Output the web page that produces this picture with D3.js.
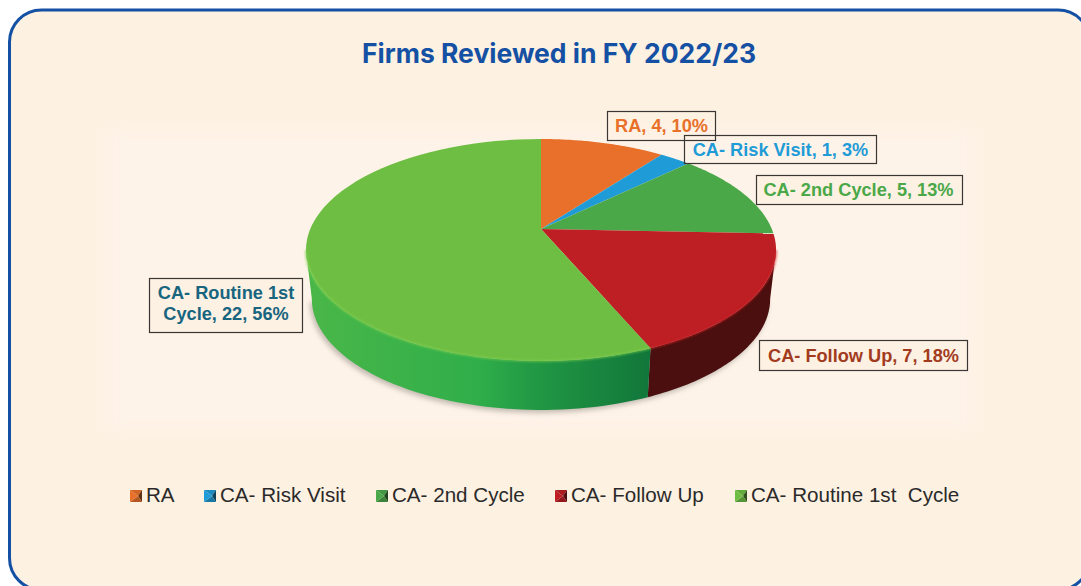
<!DOCTYPE html>
<html><head><meta charset="utf-8">
<script src="https://cdn.jsdelivr.net/npm/d3@7/dist/d3.min.js"></script>
<style>html,body{margin:0;padding:0;background:#fff;overflow:hidden}</style></head>
<body><svg id="c" width="1081" height="586"></svg>
<script>
const categories=["RA","CA- Risk Visit","CA- 2nd Cycle","CA- Follow Up","CA- Routine 1st  Cycle"];
const values=[4,1,5,7,22];
const percents=[10,3,13,18,56];
const topColors=["#e8702a","#1f9bd7","#4aa848","#bd1f24","#6fbe44"];
const sideColors=["#8a3f12","#0f5c85","#1f6b2c","#4a0f0e","#1d8a3a"];
const labelColors=["#e8702a","#1f9bd7","#4aa848","#a23b1e","#17657f"];
const labelLines=[["RA, 4, 10%"],["CA- Risk Visit, 1, 3%"],["CA- 2nd Cycle, 5, 13%"],["CA- Follow Up, 7, 18%"],["CA- Routine 1st","Cycle, 22, 56%"]];
const labelBoxes=[[607,111,108,29],[684,135,192,28],[756,175,206,29],[759,340,208,30],[149,278,153,54]];
const legendX=[130,204,376,555,735];
const title="Firms Reviewed in FY 2022/23";

const svg=d3.select("#c");
const defs=svg.append("defs");
const font="'Liberation Sans',Arial,sans-serif";
svg.append("rect").attr("x",9.5).attr("y",10).attr("width",1080.5).attr("height",580).attr("rx",32)
 .attr("fill","#fdf1e2").attr("stroke","#1450a3").attr("stroke-width",3);
const bf=defs.append("filter").attr("id","bg").attr("x","-5%").attr("y","-10%").attr("width","110%").attr("height","120%");
bf.append("feGaussianBlur").attr("stdDeviation",8);
svg.append("rect").attr("x",105).attr("y",130).attr("width",870).attr("height",300).attr("fill","#fef3e8").attr("filter","url(#bg)");
svg.append("text").attr("x",559).attr("y",63).attr("text-anchor","middle")
 .attr("font-family","Inter,'Open Sans',sans-serif").attr("font-weight",700).attr("font-size",26.5).attr("fill","#1450a3").text(title);

// perspective projection of a unit circle onto the tilted pie
const cx=541,cy=229,a=230.8,b=107,k=-0.189,depth=49,inset=.975;
const proj=(t)=>{const x=Math.sin(t),y=-Math.cos(t),d=1+k*y;return [cx+a*x/d,cy+b*y/d];};
const lower=(t)=>{const p=proj(t);return [cx+(p[0]-cx)*inset,p[1]+depth];};
const arcs=d3.pie().sort(null).value(d=>d)(values);
const line=d3.line();
const samples=(s,e)=>d3.range(0,61).map(i=>s+(e-s)*i/60);
const visStart=Math.acos(k),visEnd=2*Math.PI-Math.acos(k);

const f=defs.append("filter").attr("id","sh").attr("x","-10%").attr("y","-10%").attr("width","120%").attr("height","130%");
f.append("feGaussianBlur").attr("stdDeviation",2.5);
const rimBlur=defs.append("filter").attr("id","rim");
rimBlur.append("feGaussianBlur").attr("stdDeviation",1);
const g=svg.append("g");
const sa=samples(visStart,visEnd).map(t=>{const p=lower(t);return [p[0]-2,p[1]+3];});
g.append("path").attr("d",line(sa)+"Z").attr("fill","#b5aea6").attr("opacity",.8).attr("filter","url(#sh)");
const lg=defs.append("linearGradient").attr("id","gs").attr("x1",0).attr("x2",1).attr("y1",0).attr("y2",0);
[[0,"#4ab748"],[.5,"#30ae4a"],[.65,"#229a44"],[1,"#11763a"]].forEach(s=>lg.append("stop").attr("offset",s[0]).attr("stop-color",s[1]));
arcs.forEach(d=>{
  const s=Math.max(d.startAngle,visStart),e=Math.min(d.endAngle,visEnd);
  if(e<=s) return;
  const ts=samples(s,e);
  g.append("path").attr("d",line(ts.map(proj).concat(ts.map(lower).reverse()))+"Z")
   .attr("fill",d.index===4?"url(#gs)":sideColors[d.index]);
});
arcs.forEach(d=>{
  const pts=[[cx,cy]].concat(samples(d.startAngle,d.endAngle).map(proj));
  g.append("path").attr("d",line(pts)+"Z").attr("fill",topColors[d.index]);
});
// soft bevel along the front rim of the top face
arcs.forEach(d=>{
  const s=Math.max(d.startAngle,visStart),e=Math.min(d.endAngle,visEnd);
  if(e<=s) return;
  g.append("path").attr("d",line(samples(s,e).map(proj))).attr("fill","none")
   .attr("stroke",d3.color(topColors[d.index]).brighter(.25)).attr("stroke-width",2).attr("opacity",.7).attr("filter","url(#rim)");
});
labelBoxes.forEach((r,i)=>{
  svg.append("rect").attr("x",r[0]+.5).attr("y",r[1]+.5).attr("width",r[2]).attr("height",r[3])
    .attr("fill",i<2?"none":"#fdf1e3").attr("stroke","#3a3634").attr("stroke-width",1.2);
  const lines=labelLines[i];
  lines.forEach((t,j)=>{
    svg.append("text").attr("x",r[0]+r[2]/2+(i===2?-.5:.5)).attr("y",r[1]+(lines.length>1?21+j*21:r[3]/2+6.5)).attr("text-anchor","middle")
     .attr("font-family",font).attr("font-weight",700).attr("font-size",18.2).attr("fill",labelColors[i]).text(t);
  });
});
categories.forEach((c,i)=>{
  const x=legendX[i],y=490,s=12,gg=svg.append("g");
  const m=[x+s/2+2,y+s/2],cs=[[x,y],[x+s,y],[x+s,y+s],[x,y+s]];
  const base=d3.color(topColors[i]);
  const sh=[base.darker(.3),base.darker(2.4),base.darker(.7),base];
  cs.forEach((p,j)=>gg.append("path").attr("d",line([p,cs[(j+1)%4],m])+"Z").attr("fill",sh[j]));
  svg.append("text").attr("x",x+s+4).attr("y",502).attr("font-family",font).attr("font-size",20.6).attr("fill","#2b2a2a").attr("xml:space","preserve").text(c);
});
</script></body></html>
